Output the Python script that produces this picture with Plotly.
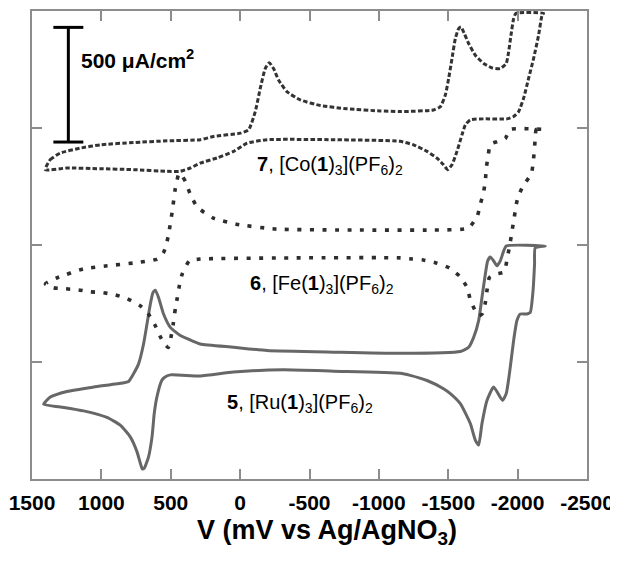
import plotly.graph_objects as go

# ---- data (potential in mV vs Ag/AgNO3, current density offset in uA/cm^2) ----
CO_V = [1404, 1368, 1296, 1152, 1008, 768, 527, 287, 191, -1,
        -61, -109, -145, -181, -210, -241, -277, -338, -434, -578,
        -770, -1010, -1154, -1394, -1443, -1479, -1503, -1527, -1551, -1575,
        -1592, -1616, -1647, -1695, -1755, -1815, -1875, -1918, -1935, -1952,
        -1971, -1988, -2187, -2176, -2151, -2115, -2079, -2043, -2007, -1971,
        -1923, -1755, -1659, -1623, -1599, -1563, -1527, -1495, -1466, -1419,
        -1347, -1250, -1154, -674, -194, -50, 47, 167, 287, 359,
        431, 527, 768, 1008, 1248, 1404]
CO_I = [1322, 1365, 1393, 1414, 1428, 1438, 1445, 1450, 1464, 1478,
        1492, 1570, 1669, 1754, 1779, 1754, 1705, 1655, 1620, 1596,
        1582, 1573, 1570, 1577, 1591, 1641, 1712, 1797, 1882, 1925,
        1932, 1903, 1861, 1811, 1776, 1757, 1754, 1776, 1825, 1896,
        1967, 1990, 1990, 1982, 1896, 1797, 1712, 1627, 1570, 1549,
        1539, 1539, 1535, 1513, 1471, 1400, 1343, 1322, 1343, 1371,
        1400, 1428, 1443, 1450, 1450, 1435, 1400, 1372, 1350, 1329,
        1315, 1315, 1322, 1326, 1329, 1322]

FE_V = [-2185, -2134, -2127, -2113, -2098, -2041, -1998, -1983, -1969, -1954,
        -1940, -1925, -1904, -1853, -1796, -1781, -1767, -1745, -1724, -1702,
        -1659, -1637, -1587, -1508, -1414, -1320, -1241, -1155, -434, 287,
        366, 417, 438, 453, 467, 482, 503, 518, 547, 575,
        611, 662, 719, 813, 900, 986, 1080, 1166, 1260, 1346,
        1404, 1368, 1318, 1130, 957, 770, 597, 554, 539, 518,
        489, 467, 446, 438, 417, 395, 359, 309, 193, 28,
        -261, -830, -1392, -1644, -1709, -1731, -1753, -1767, -1774, -1789,
        -1803, -1853, -1911, -1947, -2185]
FE_I = [1494, 1494, 1455, 1357, 1302, 1255, 1196, 1145, 1094, 1038,
        987, 945, 885, 877, 860, 813, 753, 706, 698, 711,
        766, 817, 864, 902, 923, 936, 940, 945, 945, 940,
        932, 877, 825, 774, 728, 664, 591, 562, 579, 608,
        655, 706, 740, 770, 787, 796, 800, 808, 813, 817,
        834, 847, 860, 898, 911, 923, 940, 966, 987, 1038,
        1145, 1242, 1298, 1306, 1294, 1272, 1217, 1162, 1115, 1089,
        1068, 1064, 1064, 1072, 1123, 1174, 1221, 1272, 1328, 1387,
        1430, 1442, 1455, 1494, 1494]

RU_V = [1416, 1368, 1248, 1056, 887, 804, 768, 732, 696, 671,
        647, 628, 611, 588, 552, 503, 431, 335, 287, 47,
        -194, -674, -1154, -1587, -1647, -1683, -1719, -1743, -1767, -1784,
        -1803, -1827, -1851, -1875, -1899, -1918, -2199, -2127, -2122, -2111,
        -2091, -2067, -2019, -1995, -1971, -1947, -1918, -1891, -1827, -1779,
        -1743, -1719, -1695, -1659, -1587, -1515, -1466, -1347, -1226, -1154,
        -672, -311, 49, 287, 503, 546, 565, 600, 619, 635,
        660, 691, 705, 719, 743, 792, 864, 960, 1128, 1296,
        1416]
RU_I = [319, 350, 374, 393, 407, 417, 450, 492, 577, 663,
        748, 797, 807, 776, 705, 648, 613, 588, 577, 563,
        549, 542, 537, 545, 563, 605, 677, 776, 875, 932,
        949, 932, 911, 932, 974, 996, 996, 988, 918, 804,
        712, 705, 705, 677, 591, 478, 365, 336, 393, 336,
        237, 145, 166, 237, 322, 365, 386, 421, 443, 452,
        461, 467, 457, 440, 445, 434, 421, 350, 280, 180,
        95, 46, 43, 67, 116, 180, 230, 263, 291, 308,
        319]

X_TICKS = [1500, 1000, 500, 0, -500, -1000, -1500, -2000, -2500]
X_TICK_LABELS = ["1500", "1000", "500", "0", "-500", "-1000", "-1500", "-2000", "-2500"]
Y_TICKS = [500, 1000, 1500]

SCALE_BAR_X = 1238
SCALE_BAR_Y0 = 1440
SCALE_BAR_VALUE = 490
SCALE_BAR_LABEL = "500 \u03bcA/cm<sup>2</sup>"

LABELS = [
    ("<b>7</b>, [Co(<b>1</b>)<sub>3</sub>](PF<sub>6</sub>)<sub>2</sub>", -650, 1340),
    ("<b>6</b>, [Fe(<b>1</b>)<sub>3</sub>](PF<sub>6</sub>)<sub>2</sub>", -592, 830),
    ("<b>5</b>, [Ru(<b>1</b>)<sub>3</sub>](PF<sub>6</sub>)<sub>2</sub>", -434, 323),
]

FONT = "Liberation Sans, Arial, sans-serif"
AXC = "#8c8c8c"

fig = go.Figure()
fig.add_trace(go.Scatter(x=RU_V, y=RU_I, mode="lines",
                         line=dict(color="#676767", width=3, shape="spline", smoothing=0.5),
                         hoverinfo="skip"))
fig.add_trace(go.Scatter(x=FE_V, y=FE_I, mode="lines",
                         line=dict(color="#2e2e2e", width=3.6, dash="4px,8.5px",
                                   shape="spline", smoothing=0.5),
                         hoverinfo="skip"))
fig.add_trace(go.Scatter(x=CO_V, y=CO_I, mode="lines",
                         line=dict(color="#333333", width=3, dash="4.5px,2.3px",
                                   shape="spline", smoothing=0.5),
                         hoverinfo="skip"))

# scale bar
cap = 108
bar_kw = dict(type="line", xref="x", yref="y", line=dict(color="black", width=3))
fig.add_shape(x0=SCALE_BAR_X, x1=SCALE_BAR_X, y0=SCALE_BAR_Y0,
              y1=SCALE_BAR_Y0 + SCALE_BAR_VALUE, **bar_kw)
fig.add_shape(x0=SCALE_BAR_X - cap, x1=SCALE_BAR_X + cap, y0=SCALE_BAR_Y0,
              y1=SCALE_BAR_Y0, **bar_kw)
fig.add_shape(x0=SCALE_BAR_X - cap, x1=SCALE_BAR_X + cap, y0=SCALE_BAR_Y0 + SCALE_BAR_VALUE,
              y1=SCALE_BAR_Y0 + SCALE_BAR_VALUE, **bar_kw)
fig.add_annotation(x=1160, y=SCALE_BAR_Y0 + 0.72 * SCALE_BAR_VALUE, xref="x", yref="y",
                   text="<b>" + SCALE_BAR_LABEL + "</b>", showarrow=False,
                   xanchor="left", yanchor="middle",
                   font=dict(family=FONT, size=21, color="black"))

for txt, xv, yv in LABELS:
    fig.add_annotation(x=xv, y=yv, xref="x", yref="y", text=txt, showarrow=False,
                       xanchor="center", yanchor="middle",
                       font=dict(family=FONT, size=20, color="black"))

fig.add_annotation(x=0.532, y=-0.113, xref="paper", yref="paper",
                   text="<b>V (mV vs Ag/AgNO<sub>3</sub>)</b>", showarrow=False,
                   xanchor="center", yanchor="middle",
                   font=dict(family=FONT, size=27, color="black"))

# the page body adds an 8px offset, so the figure is 8px smaller on each axis
fig.update_layout(
    width=610, height=553,
    margin=dict(l=24, r=31, t=1, b=82),
    paper_bgcolor="white", plot_bgcolor="white",
    showlegend=False,
    xaxis=dict(range=[1500, -2500], tickvals=X_TICKS, ticktext=X_TICK_LABELS,
               ticks="inside", ticklen=10, tickwidth=1.5, tickcolor=AXC,
               showline=True, linecolor=AXC, linewidth=1.5, mirror="ticks",
               showgrid=False, zeroline=False, ticklabelstandoff=4,
               tickfont=dict(family=FONT, size=21, color="black", weight="bold")),
    yaxis=dict(range=[0, 2000], tickvals=Y_TICKS, showticklabels=False,
               ticks="inside", ticklen=10, tickwidth=1.5, tickcolor=AXC,
               showline=True, linecolor=AXC, linewidth=1.5, mirror="ticks",
               showgrid=False, zeroline=False),
)

fig.write_html("out.html")
